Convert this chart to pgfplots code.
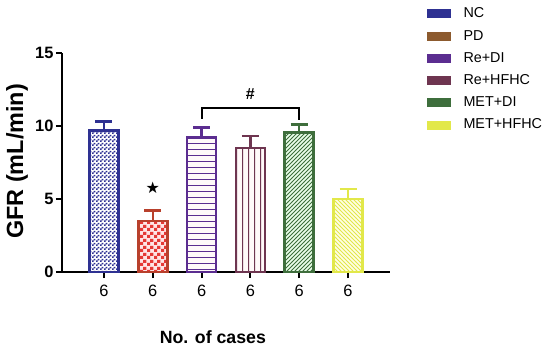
\documentclass[border=0pt]{standalone}
\usepackage{pgfplots}
\pgfplotsset{compat=1.18}
\usetikzlibrary{patterns}
\usepackage{fontspec}
\setmainfont{Liberation Sans}
\newfontfamily\symfont{DejaVu Sans}
\definecolor{cNC}{HTML}{2E3192}
\definecolor{cPD}{HTML}{8C5A2E}
\definecolor{cPDbar}{HTML}{B8402C}
\definecolor{cPDpat}{HTML}{E53935}
\definecolor{cRD}{HTML}{5B2D90}
\definecolor{cRH}{HTML}{6E3550}
\definecolor{cMD}{HTML}{3E6E3C}
\definecolor{cMH}{HTML}{E2E84A}
\pgfdeclarepatternformonly{bigchecker}{\pgfqpoint{0bp}{0bp}}{\pgfqpoint{7bp}{7bp}}{\pgfqpoint{7bp}{7bp}}{%
  \pgfpathrectangle{\pgfqpoint{0bp}{0bp}}{\pgfqpoint{3.5bp}{3.5bp}}%
  \pgfpathrectangle{\pgfqpoint{3.5bp}{3.5bp}}{\pgfqpoint{3.5bp}{3.5bp}}%
  \pgfusepath{fill}}
\pgfdeclarepatternformonly{smallchecker}{\pgfqpoint{0bp}{0bp}}{\pgfqpoint{4bp}{4bp}}{\pgfqpoint{4bp}{4bp}}{%
  \pgfpathrectangle{\pgfqpoint{0bp}{0bp}}{\pgfqpoint{2bp}{2bp}}%
  \pgfpathrectangle{\pgfqpoint{2bp}{2bp}}{\pgfqpoint{2bp}{2bp}}%
  \pgfusepath{fill}}
\pgfdeclarepatternformonly{myhlines}{\pgfqpoint{0bp}{0bp}}{\pgfqpoint{10bp}{6bp}}{\pgfqpoint{10bp}{6bp}}{%
  \pgfsetlinewidth{0.9bp}\pgfpathmoveto{\pgfqpoint{-1bp}{3bp}}\pgfpathlineto{\pgfqpoint{11bp}{3bp}}\pgfusepath{stroke}}
\pgfdeclarepatternformonly{myvlines}{\pgfqpoint{0bp}{0bp}}{\pgfqpoint{6bp}{10bp}}{\pgfqpoint{6bp}{10bp}}{%
  \pgfsetlinewidth{1bp}\pgfpathmoveto{\pgfqpoint{3bp}{-1bp}}\pgfpathlineto{\pgfqpoint{3bp}{11bp}}\pgfusepath{stroke}}
\pgfdeclarepatternformonly{mynel}{\pgfqpoint{-1bp}{-1bp}}{\pgfqpoint{5bp}{5bp}}{\pgfqpoint{4bp}{4bp}}{%
  \pgfsetlinewidth{1bp}\pgfpathmoveto{\pgfqpoint{0bp}{0bp}}\pgfpathlineto{\pgfqpoint{4.1bp}{4.1bp}}\pgfusepath{stroke}}
\pgfdeclarepatternformonly{mynwl}{\pgfqpoint{-1bp}{-1bp}}{\pgfqpoint{5bp}{5bp}}{\pgfqpoint{4bp}{4bp}}{%
  \pgfsetlinewidth{1bp}\pgfpathmoveto{\pgfqpoint{0bp}{4bp}}\pgfpathlineto{\pgfqpoint{4.1bp}{-0.1bp}}\pgfusepath{stroke}}
\begin{document}
\begin{tikzpicture}
\path[use as bounding box] (0,0) rectangle (550bp,350bp);
\begin{axis}[
  at={(62bp,78bp)}, anchor=south west, scale only axis,
  width=328bp, height=219bp,
  xmin=-0.86, xmax=5.86, ymin=0, ymax=15,
  axis x line*=bottom, axis y line*=left,
  axis line style={line width=2bp, -},
  ytick={0,5,10,15}, xtick={0,1,2,3,4,5}, xticklabels={6,6,6,6,6,6},
  tick align=outside, major tick length=6bp,
  tick style={line width=2bp, black},
  /pgf/number format/assume math mode=true,
  yticklabel style={font=\bfseries\fontsize{16.5}{16.5}\selectfont, xshift=1bp},
  xticklabel style={font=\fontsize{16.5}{16.5}\selectfont, yshift=-4bp},
  xlabel={No. of cases},
  xlabel style={font=\bfseries\fontsize{17.8}{17.8}\selectfont, at={(axis description cs:0.46,-0.297)}, anchor=center},
  ylabel={GFR (mL/min)},
  ylabel style={font=\bfseries\fontsize{23.5}{23.5}\selectfont, at={(axis description cs:-0.137,0.505)}, anchor=center},
  ybar, bar width=29bp, bar shift=0pt,
  clip=false,
  error bars/y dir=plus, error bars/y explicit,
  legend style={at={(axis description cs:1.104,1.225)}, anchor=north west, draw=none, fill=none,
    font=\fontsize{14.4}{14.4}\selectfont, cells={anchor=west}, row sep=6.8bp},
]
\addlegendimage{legend image code/.code={\fill[cNC] (0bp,-4bp) rectangle (23bp,4bp);\path[draw=none] (0bp,0bp) -- (34bp,0bp);}}
\addlegendentry{NC}
\addlegendimage{legend image code/.code={\fill[cPD] (0bp,-4bp) rectangle (23bp,4bp);\path[draw=none] (0bp,0bp) -- (34bp,0bp);}}
\addlegendentry{PD}
\addlegendimage{legend image code/.code={\fill[cRD] (0bp,-4bp) rectangle (23bp,4bp);\path[draw=none] (0bp,0bp) -- (34bp,0bp);}}
\addlegendentry{Re+DI}
\addlegendimage{legend image code/.code={\fill[cRH] (0bp,-4bp) rectangle (23bp,4bp);\path[draw=none] (0bp,0bp) -- (34bp,0bp);}}
\addlegendentry{Re+HFHC}
\addlegendimage{legend image code/.code={\fill[cMD] (0bp,-4bp) rectangle (23bp,4bp);\path[draw=none] (0bp,0bp) -- (34bp,0bp);}}
\addlegendentry{MET+DI}
\addlegendimage{legend image code/.code={\fill[cMH] (0bp,-4bp) rectangle (23bp,4bp);\path[draw=none] (0bp,0bp) -- (34bp,0bp);}}
\addlegendentry{MET+HFHC}
% bars
\addplot[forget plot, draw=cNC, line width=2.5bp, pattern=smallchecker, pattern color=cNC,
  error bars/error bar style={line width=2.5bp, draw=cNC},
  error bars/error mark options={rotate=90, line width=2.5bp, draw=cNC, mark size=8.5bp}]
  coordinates {(0,9.7) +- (0,0.6)};
\addplot[forget plot, draw=cPDbar, line width=2.5bp, fill=pink!40, postaction={pattern=bigchecker, pattern color=cPDpat},
  error bars/error bar style={line width=2.5bp, draw=cPDbar},
  error bars/error mark options={rotate=90, line width=2.5bp, draw=cPDbar, mark size=8.5bp}]
  coordinates {(1,3.5) +- (0,0.7)};
\addplot[forget plot, draw=cRD, line width=2.5bp, fill=pink!10, postaction={pattern=myhlines, pattern color=cRD},
  error bars/error bar style={line width=2.5bp, draw=cRD},
  error bars/error mark options={rotate=90, line width=2.5bp, draw=cRD, mark size=8.5bp}]
  coordinates {(2,9.2) +- (0,0.7)};
\addplot[forget plot, draw=cRH, line width=2.5bp, fill=pink!10, postaction={pattern=myvlines, pattern color=cRH},
  error bars/error bar style={line width=2.5bp, draw=cRH},
  error bars/error mark options={rotate=90, line width=2.5bp, draw=cRH, mark size=8.5bp}]
  coordinates {(3,8.5) +- (0,0.8)};
\addplot[forget plot, draw=cMD, line width=2.5bp, fill=green!8, postaction={pattern=mynel, pattern color=cMD},
  error bars/error bar style={line width=2.5bp, draw=cMD},
  error bars/error mark options={rotate=90, line width=2.5bp, draw=cMD, mark size=8.5bp}]
  coordinates {(4,9.55) +- (0,0.55)};
\addplot[forget plot, draw=cMH, line width=2.5bp, fill=yellow!10, postaction={pattern=mynwl, pattern color=cMH},
  error bars/error bar style={line width=2.5bp, draw=cMH},
  error bars/error mark options={rotate=90, line width=2.5bp, draw=cMH, mark size=8.5bp}]
  coordinates {(5,5.0) +- (0,0.7)};
% bracket
\addplot[forget plot, sharp plot, black, line width=2bp, no marks, error bars/y dir=none]
  coordinates {(2,10.5) (2,11.2) (4,11.2) (4,10.4)};
\node[font=\bfseries\fontsize{16}{16}\selectfont] at (axis cs:3,12.2) {\#};
\node[font=\symfont\fontsize{16}{16}\selectfont] at (axis cs:1,5.75) {★};
\end{axis}
\end{tikzpicture}
\end{document}
